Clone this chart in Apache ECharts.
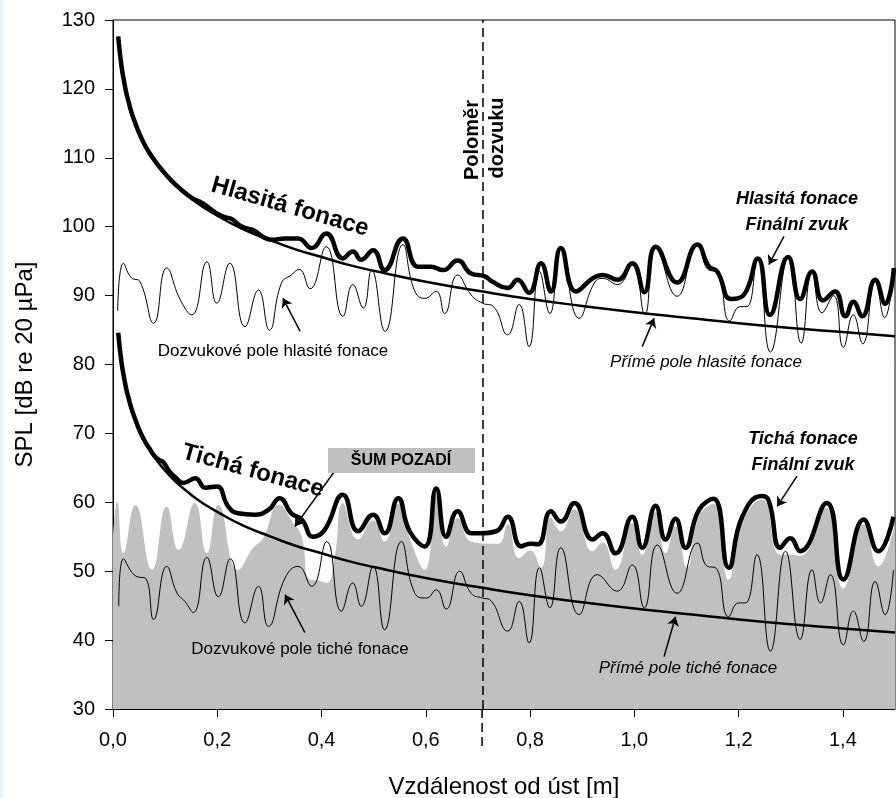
<!DOCTYPE html>
<html><head><meta charset="utf-8">
<script src="https://cdn.jsdelivr.net/npm/echarts@6/dist/echarts.min.js"></script>
<style>html,body{margin:0;padding:0;background:#fff}#c{width:896px;height:798px}</style>
</head><body><div id="c"></div>
<script>
// ---- data ----
const xTicks = [0, 0.2, 0.4, 0.6, 0.8, 1.0, 1.2, 1.4];
const yTicks = [30, 40, 50, 60, 70, 80, 90, 100, 110, 120, 130];
const reverbRadius = 0.708;

const loudDirect = [[0.01,127.6],[0.0125,125.7],[0.015,124.1],[0.0175,122.7],[0.02,121.6],[0.025,119.6],[0.03,118.1],[0.035,116.7],[0.04,115.6],[0.05,113.6],[0.06,112.0],[0.07,110.7],[0.08,109.5],[0.09,108.5],[0.1,107.6],[0.12,106.0],[0.14,104.7],[0.16,103.5],[0.18,102.5],[0.2,101.6],[0.25,99.6],[0.3,98.1],[0.35,96.7],[0.4,95.6],[0.45,94.5],[0.5,93.6],[0.6,92.0],[0.7,90.7],[0.8,89.5],[0.9,88.5],[1.0,87.6],[1.1,86.8],[1.2,86.0],[1.3,85.3],[1.4,84.7],[1.5,84.1]];
const quietDirect = [[0.01,84.6],[0.0125,82.7],[0.015,81.1],[0.0175,79.7],[0.02,78.6],[0.025,76.6],[0.03,75.1],[0.035,73.7],[0.04,72.6],[0.05,70.6],[0.06,69.0],[0.07,67.7],[0.08,66.5],[0.09,65.5],[0.1,64.6],[0.12,63.0],[0.14,61.7],[0.16,60.5],[0.18,59.5],[0.2,58.6],[0.25,56.6],[0.3,55.1],[0.35,53.7],[0.4,52.6],[0.45,51.5],[0.5,50.6],[0.6,49.0],[0.7,47.7],[0.8,46.5],[0.9,45.5],[1.0,44.6],[1.1,43.8],[1.2,43.0],[1.3,42.3],[1.4,41.7],[1.5,41.1]];

const loudReverb = [[0.009,87.8],[0.020,94.7],[0.035,92.6],[0.052,92.0],[0.078,86.0],[0.103,94.0],[0.129,89.4],[0.151,87.2],[0.180,94.9],[0.199,88.9],[0.224,94.7],[0.253,85.5],[0.279,90.8],[0.300,85.0],[0.323,91.8],[0.342,93.0],[0.357,93.8],[0.378,91.0],[0.409,97.1],[0.441,87.0],[0.460,91.6],[0.480,88.2],[0.496,93.7],[0.522,84.8],[0.556,97.4],[0.578,90.8],[0.598,89.6],[0.620,90.6],[0.636,87.4],[0.661,93.0],[0.687,90.1],[0.709,88.9],[0.730,88.4],[0.757,84.3],[0.779,88.7],[0.798,82.6],[0.818,93.5],[0.838,87.4],[0.859,96.9],[0.894,86.7],[0.923,91.8],[0.939,92.5],[0.968,91.6],[0.996,94.5],[1.020,87.3],[1.041,97.1],[1.082,89.9],[1.121,97.4],[1.143,93.7],[1.159,93.5],[1.183,86.3],[1.203,88.4],[1.216,88.4],[1.236,95.4],[1.261,81.8],[1.296,95.7],[1.320,83.1],[1.341,93.5],[1.360,87.5],[1.382,90.0],[1.401,82.5],[1.420,87.2],[1.438,83.0],[1.462,92.0],[1.480,86.8],[1.497,93.7]];

const loudFinal = [[0.01,127.6],[0.0125,125.7],[0.015,124.1],[0.0175,122.7],[0.02,121.6],[0.025,119.6],[0.03,118.1],[0.035,116.7],[0.04,115.6],[0.05,113.6],[0.06,112.0],[0.07,110.7],[0.08,109.6],[0.09,108.6],[0.1,107.7],[0.12,106.1],[0.14,104.8],[0.155,104.0],[0.17,103.5],[0.185,102.7],[0.2,101.9],[0.215,101.4],[0.228,101.1],[0.245,100.1],[0.26,99.7],[0.272,99.4],[0.288,98.5],[0.304,98.1],[0.330,98.3],[0.355,98.3],[0.381,96.9],[0.409,99.0],[0.441,95.4],[0.460,96.4],[0.476,95.2],[0.499,96.6],[0.521,93.7],[0.556,98.3],[0.585,94.2],[0.610,94.2],[0.633,93.7],[0.661,95.1],[0.687,93.2],[0.713,92.8],[0.728,92.0],[0.757,91.1],[0.776,92.3],[0.798,90.4],[0.821,94.7],[0.840,90.6],[0.859,96.9],[0.888,90.6],[0.920,92.5],[0.939,93.0],[0.968,92.3],[0.996,94.7],[1.019,90.5],[1.041,97.1],[1.082,91.9],[1.121,97.4],[1.143,94.2],[1.159,93.5],[1.186,89.5],[1.210,90.1],[1.237,95.4],[1.260,87.2],[1.295,95.6],[1.318,89.5],[1.341,93.5],[1.362,89.3],[1.385,90.6],[1.405,87.0],[1.420,89.1],[1.437,87.0],[1.462,92.3],[1.481,88.8],[1.498,94.0]];

const quietReverb = [[0.011,44.9],[0.020,51.8],[0.046,49.2],[0.062,49.0],[0.078,43.0],[0.103,50.7],[0.123,46.8],[0.138,45.6],[0.154,44.0],[0.180,52.0],[0.202,46.3],[0.225,51.8],[0.253,42.5],[0.279,47.8],[0.298,42.0],[0.330,49.0],[0.355,50.7],[0.381,47.8],[0.410,54.3],[0.438,44.2],[0.460,48.3],[0.476,44.9],[0.499,50.7],[0.521,41.5],[0.553,54.3],[0.579,46.8],[0.601,46.1],[0.620,47.3],[0.639,44.5],[0.665,50.0],[0.687,46.8],[0.709,46.1],[0.722,45.9],[0.757,41.3],[0.779,45.6],[0.798,39.6],[0.818,50.5],[0.838,44.7],[0.859,53.4],[0.894,43.7],[0.929,49.5],[0.967,47.1],[0.996,50.9],[1.019,44.7],[1.044,53.8],[1.082,46.8],[1.121,54.1],[1.140,50.7],[1.156,50.5],[1.181,43.4],[1.200,45.4],[1.213,45.4],[1.235,52.4],[1.261,38.4],[1.290,52.9],[1.318,40.1],[1.341,50.2],[1.357,45.4],[1.376,49.5],[1.401,39.3],[1.420,44.2],[1.440,39.8],[1.462,48.5],[1.481,43.7],[1.497,50.2]];

const quietFinal = [[0.01,84.6],[0.0125,82.7],[0.015,81.1],[0.0175,79.7],[0.02,78.6],[0.025,76.6],[0.03,75.1],[0.035,73.7],[0.04,72.6],[0.05,70.6],[0.06,69.0],[0.07,67.8],[0.08,66.7],[0.09,66.1],[0.097,65.8],[0.108,64.5],[0.12,63.6],[0.135,62.8],[0.158,63.5],[0.177,62.1],[0.199,62.3],[0.221,59.4],[0.240,58.4],[0.272,58.2],[0.298,58.9],[0.320,60.6],[0.342,58.4],[0.362,57.5],[0.384,55.0],[0.406,56.0],[0.441,61.1],[0.470,55.8],[0.499,58.2],[0.521,55.5],[0.547,60.6],[0.569,55.8],[0.598,53.6],[0.620,62.0],[0.639,55.0],[0.661,58.7],[0.687,55.5],[0.703,55.5],[0.735,55.8],[0.757,57.9],[0.783,53.6],[0.800,54.0],[0.815,53.9],[0.840,58.7],[0.859,57.2],[0.885,59.9],[0.920,54.6],[0.939,55.5],[0.964,52.6],[0.996,57.9],[1.015,53.4],[1.041,59.5],[1.060,54.6],[1.079,57.6],[1.098,53.4],[1.124,58.9],[1.152,60.5],[1.181,50.5],[1.207,57.9],[1.245,60.9],[1.258,60.2],[1.280,53.4],[1.299,54.8],[1.318,52.9],[1.369,59.9],[1.401,48.8],[1.440,57.5],[1.468,52.9],[1.497,57.9]];

const noise = [[0.0,55.0],[0.008,60.1],[0.020,52.6],[0.043,59.6],[0.075,50.2],[0.103,59.4],[0.126,53.1],[0.157,59.9],[0.180,52.6],[0.202,59.6],[0.240,50.2],[0.269,53.4],[0.288,54.8],[0.318,59.6],[0.346,57.0],[0.362,55.0],[0.377,48.8],[0.395,48.6],[0.410,48.3],[0.425,52.0],[0.441,59.9],[0.470,54.6],[0.499,57.4],[0.521,54.3],[0.547,59.8],[0.569,54.8],[0.598,50.2],[0.620,60.9],[0.639,53.6],[0.661,57.7],[0.687,54.3],[0.720,54.0],[0.740,54.0],[0.757,56.8],[0.779,51.9],[0.800,53.0],[0.821,50.5],[0.840,57.8],[0.859,55.8],[0.885,59.0],[0.920,52.9],[0.939,54.2],[0.964,50.2],[0.996,57.0],[1.015,52.4],[1.041,58.6],[1.060,52.6],[1.079,56.6],[1.101,50.5],[1.124,58.0],[1.152,59.8],[1.181,48.8],[1.207,57.0],[1.245,60.4],[1.280,52.4],[1.302,52.4],[1.318,52.2],[1.369,59.2],[1.401,47.5],[1.440,56.8],[1.468,50.7],[1.500,57.2]];

// annotation arrows in data units [from, to]
const arrows = [
  [[1.287,98.6],[1.258,94.5]],
  [[1.015,82.6],[1.038,86.7]],
  [[0.359,84.8],[0.326,89.6]],
  [[1.312,63.8],[1.274,59.4]],
  [[1.057,37.6],[1.079,43.4]],
  [[0.368,41.1],[0.330,46.6]],
  [[0.425,64.5],[0.349,56.5]]
];

// ---- chart ----
const FONT = '"Liberation Sans", Arial, sans-serif';
const chart = echarts.init(document.getElementById('c'), null, {renderer:'canvas'});
const lineBase = {type:'line', showSymbol:false, symbol:'none', silent:true, animation:false};
function txt(text, x, y, font, rot){
  return {type:'text', x:x, y:y, rotation:rot||0, z:100,
    style:{text:text, font:font, fill:'#000', align:'center', verticalAlign:'middle'}};
}
const option = {
  animation:false,
  backgroundColor:'#fff',
  grid:{left:113, right:1, top:20, bottom:89, containLabel:false, outerBoundsMode:'none',
    show:true, borderColor:'#000', borderWidth:1, backgroundColor:'transparent'},
  xAxis:{type:'value', min:0, max:1.5, interval:0.2,
    name:'Vzdálenost od úst [m]', nameLocation:'middle', nameGap:66,
    nameTextStyle:{fontFamily:FONT, fontSize:24, color:'#000'},
    axisLine:{show:true, onZero:false, lineStyle:{color:'#000', width:1}},
    axisTick:{show:true, length:8, lineStyle:{color:'#000'}},
    axisLabel:{fontFamily:FONT, fontSize:20, color:'#000', margin:21, showMaxLabel:false,
      formatter:function(v){ return xTicks.some(t=>Math.abs(t-v)<1e-6) ? v.toFixed(1).replace('.', ',') : ''; }},
    splitLine:{show:false}},
  yAxis:{type:'value', min:yTicks[0], max:yTicks[yTicks.length-1], interval:10,
    name:'SPL [dB re 20 µPa]', nameLocation:'middle', nameGap:76,
    nameTextStyle:{fontFamily:FONT, fontSize:24, color:'#000'},
    axisLine:{show:true, onZero:false, lineStyle:{color:'#000', width:1}},
    axisTick:{show:true, length:8, lineStyle:{color:'#000'}},
    axisLabel:{fontFamily:FONT, fontSize:20, color:'#000', margin:18},
    splitLine:{show:false}},
  series:[
    Object.assign({}, lineBase, {name:'noise', data:noise, smooth:0.5, z:1,
      lineStyle:{width:0, color:'#c0c0c0'}, itemStyle:{color:'#c0c0c0'}, areaStyle:{color:'#c0c0c0', opacity:1}}),
    Object.assign({}, lineBase, {name:'loudReverb', data:loudReverb, smooth:0.5, z:2,
      lineStyle:{width:1, color:'#000'}}),
    Object.assign({}, lineBase, {name:'quietReverb', data:quietReverb, smooth:0.5, z:2,
      lineStyle:{width:1, color:'#000'}}),
    Object.assign({}, lineBase, {name:'loudDirect', data:loudDirect, smooth:0.5, z:3,
      lineStyle:{width:2.5, color:'#000'}}),
    Object.assign({}, lineBase, {name:'quietDirect', data:quietDirect, smooth:0.5, z:3,
      lineStyle:{width:2.5, color:'#000'},
      markLine:{silent:true, symbol:'none', animation:false, label:{show:false},
        lineStyle:{color:'#000', width:1.5, type:[9,5]},
        data:[{xAxis:reverbRadius}]}}),
    Object.assign({}, lineBase, {name:'loudFinal', data:loudFinal, smooth:0.5, z:4,
      lineStyle:{width:4.5, color:'#000', join:'round'}}),
    Object.assign({}, lineBase, {name:'quietFinal', data:quietFinal, smooth:0.5, z:4,
      lineStyle:{width:4.5, color:'#000', join:'round'},
      markLine:{silent:true, symbol:['none','arrow'], symbolSize:9, animation:false, label:{show:false},
        lineStyle:{color:'#000', width:1.5, type:'solid'},
        data: arrows.map(a=>[{coord:a[0]},{coord:a[1]}])}})
  ]
};
chart.setOption(option);

const pBottom = chart.convertToPixel({gridIndex:0}, [reverbRadius, 30]);
const gfx = [
  {type:'rect', shape:{x:0, y:0, width:3, height:798}, style:{fill:'#eaf5fc'}, z:100},
  {type:'line', shape:{x1:pBottom[0], y1:pBottom[1], x2:pBottom[0], y2:pBottom[1]+39}, style:{stroke:'#000', lineWidth:1.5, lineDash:[9,5]}, z:100},
  txt('Hlasitá fonace', 290, 207, 'bold 24px ' + FONT, -0.28),
  txt('Tichá fonace', 253, 471, 'bold 24px ' + FONT, -0.27),
  txt('Poloměr', 472, 140, 'bold 20px ' + FONT, Math.PI/2),
  txt('dozvuku', 497, 138, 'bold 20px ' + FONT, Math.PI/2),
  txt('Hlasitá fonace', 797, 199, 'italic bold 18px ' + FONT),
  txt('Finální zvuk', 797, 225, 'italic bold 18px ' + FONT),
  txt('Tichá fonace', 803, 439, 'italic bold 18px ' + FONT),
  txt('Finální zvuk', 803, 465, 'italic bold 18px ' + FONT),
  txt('Dozvukové pole hlasité fonace', 273, 351, '17px ' + FONT),
  txt('Přímé pole hlasité fonace', 706, 362, 'italic 17px ' + FONT),
  txt('Dozvukové pole tiché fonace', 300, 649, '17px ' + FONT),
  txt('Přímé pole tiché fonace', 688, 668, 'italic 17px ' + FONT),
  {type:'rect', shape:{x:328, y:448, width:147, height:25}, style:{fill:'#c0c0c0'}, z:99},
  txt('ŠUM POZADÍ', 401, 461, 'bold 16px ' + FONT)
];
chart.setOption({graphic:gfx});
</script></body></html>
